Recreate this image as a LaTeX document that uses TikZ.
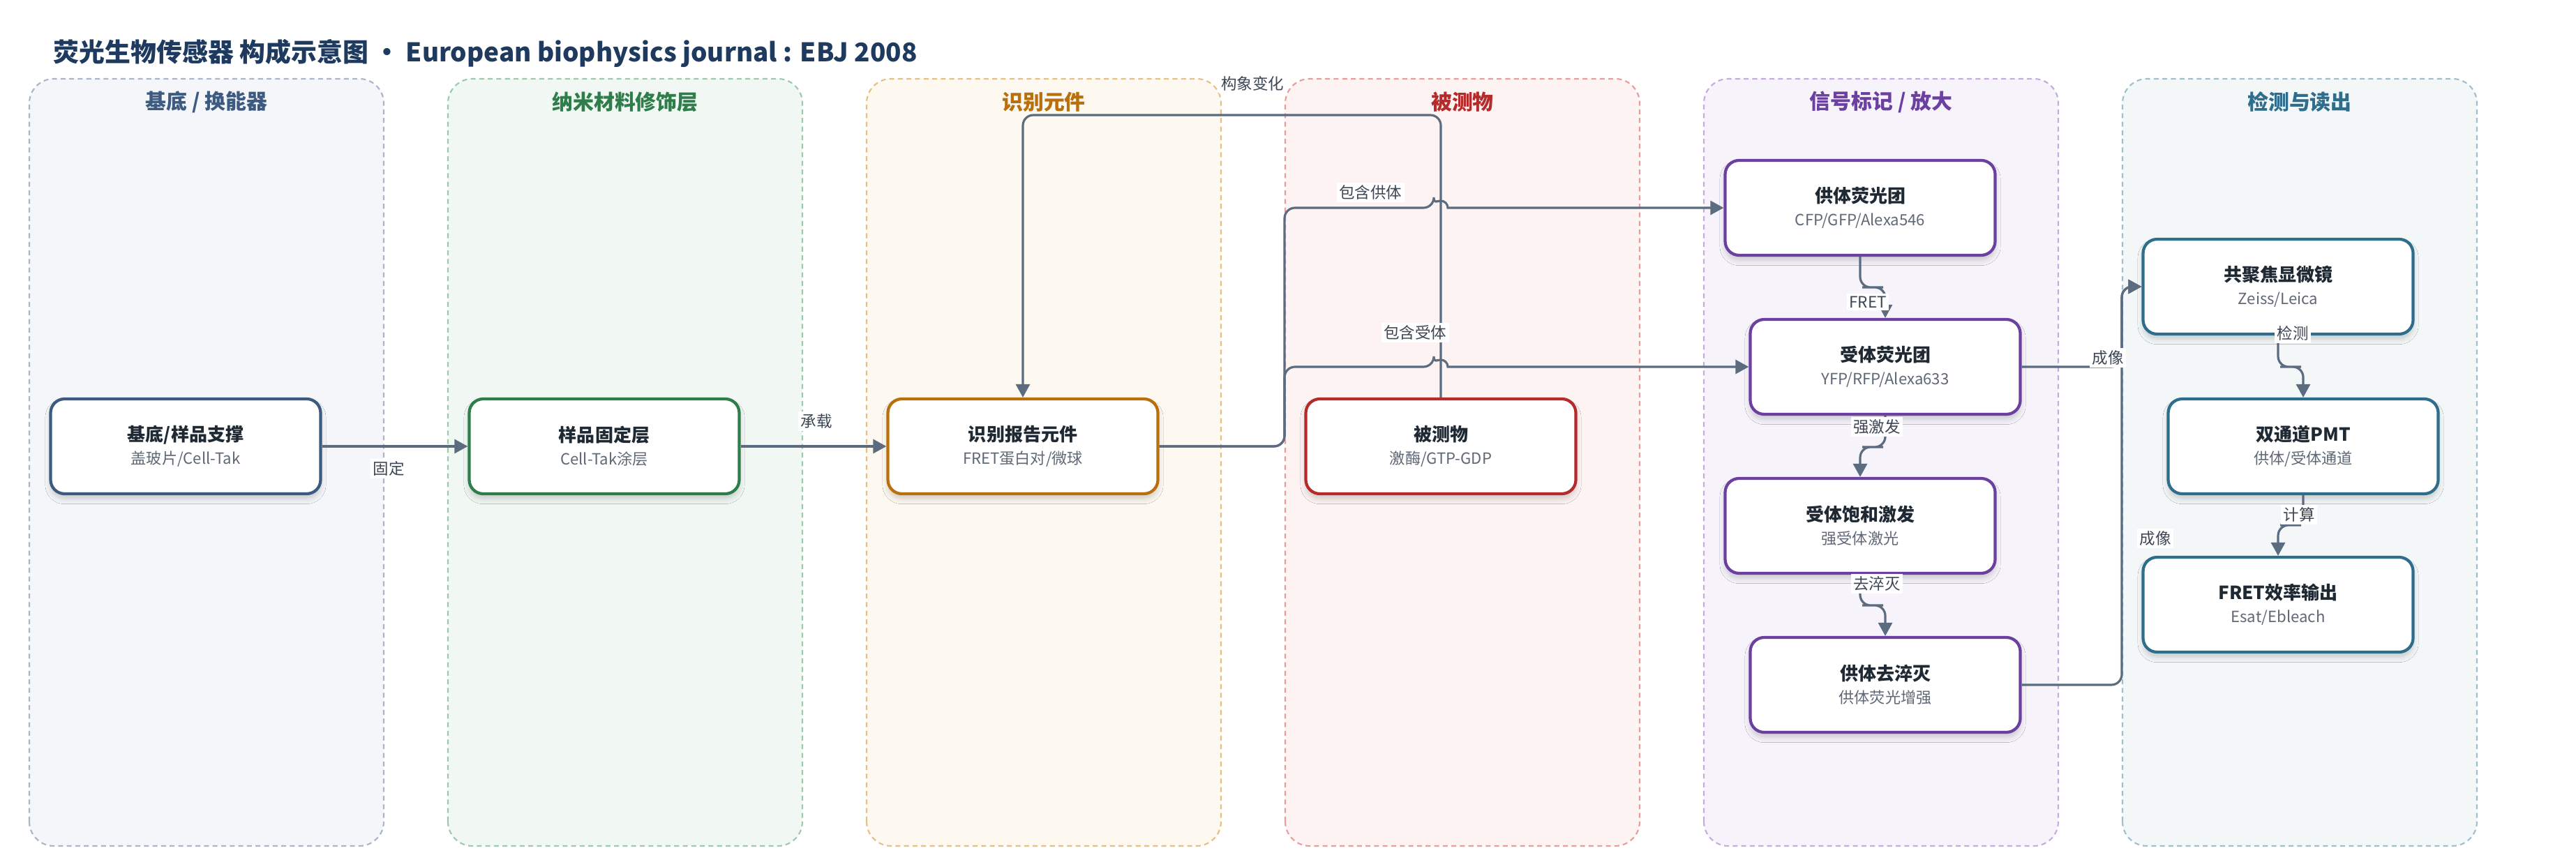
\documentclass[tikz,border=0pt]{standalone}
\usepackage{fontspec}
\usepackage{tkz-euclide}
\setmainfont{Noto Sans CJK SC}
\usetikzlibrary{arrows.meta,shadows.blur}
\definecolor{titleblue}{HTML}{1E3A5F}
\definecolor{edgegray}{HTML}{5B6B80}
\definecolor{subgray}{HTML}{5F6875}
\definecolor{inkdark}{HTML}{1F2933}
\definecolor{lblgray}{HTML}{3D4654}
\definecolor{lfA}{HTML}{F4F6FA}\definecolor{ldA}{HTML}{A9B5C9}\definecolor{ltA}{HTML}{3D5A80}
\definecolor{lfB}{HTML}{F1F8F3}\definecolor{ldB}{HTML}{9DCAAA}\definecolor{ltB}{HTML}{2F7D4B}
\definecolor{lfC}{HTML}{FDF8F0}\definecolor{ldC}{HTML}{E8BF82}\definecolor{ltC}{HTML}{B8700E}
\definecolor{lfD}{HTML}{FDF3F2}\definecolor{ldD}{HTML}{E99C9C}\definecolor{ltD}{HTML}{B52A2A}
\definecolor{lfE}{HTML}{F6F3FB}\definecolor{ldE}{HTML}{C4ACDF}\definecolor{ltE}{HTML}{6B40A0}
\definecolor{lfF}{HTML}{F3F7F8}\definecolor{ldF}{HTML}{9EBFCB}\definecolor{ltF}{HTML}{2E6D8C}
\newcommand\boxtext[2]{{\fontsize{7.4}{9.4}\selectfont\bfseries\color{inkdark}#1}\\{\color{subgray}#2}}

\begin{document}
\begin{tikzpicture}[
        lane/.style={rounded corners=0.35cm,dash pattern=on 2pt off 1.5pt,line width=0.6pt},
        lanetitle/.style={font=\fontsize{8.5}{10}\selectfont\bfseries},
        box/.style={rectangle,rounded corners=0.2cm,minimum width=3.87cm,minimum height=1.36cm,
            fill=white,line width=1.2pt,align=center,font=\fontsize{6.3}{9.4}\selectfont,
            blur shadow={shadow xshift=0pt,shadow yshift=-2pt,shadow opacity=18,shadow blur steps=6}},
        link/.style={draw=edgegray,line width=0.9pt,rounded corners=0.15cm,
            -{Triangle[length=0.19cm,width=0.2cm]}},
        lbl/.style={fill=white,inner sep=1pt,text=lblgray,font=\fontsize{6.4}{8}\selectfont}]
                \useasboundingbox (0,0) rectangle (36.92,12.35);
                \node[anchor=base west,inner sep=0,text=titleblue,font=\fontsize{10.5}{12}\selectfont\bfseries] (title)
                    at (0.76,11.46) {荧光生物传感器 构成示意图 • European biophysics journal : EBJ 2008};
                \foreach \i/\fc/\dc/\tc/\name in {0/lfA/ldA/ltA/{基底 / 换能器},1/lfB/ldB/ltB/纳米材料修饰层,
                        2/lfC/ldC/ltC/识别元件,3/lfD/ldD/ltD/被测物,4/lfE/ldE/ltE/{信号标记 / 放大},5/lfF/ldF/ltF/检测与读出}{
                    \draw[lane,fill=\fc,draw=\dc] (0.42+6*\i,0.22) rectangle ++(5.08,11);
                    \node[lanetitle,text=\tc] (lane\i) at (2.96+6*\i,10.89) {\name};
                }
                \node[box,draw=ltA] (base) at (2.66,5.95) {\boxtext{基底/样品支撑}{盖玻片/Cell-Tak}};
                \node[box,draw=ltB] (fix) at (8.66,5.95) {\boxtext{样品固定层}{Cell-Tak涂层}};
                \node[box,draw=ltC] (recog) at (14.66,5.95) {\boxtext{识别报告元件}{FRET蛋白对/微球}};
                \node[box,draw=ltD] (target) at (20.65,5.95) {\boxtext{被测物}{激酶/GTP-GDP}};
                \node[box,draw=ltE] (donor) at (26.66,9.37) {\boxtext{供体荧光团}{CFP/GFP/Alexa546}};
                \node[box,draw=ltE] (acceptor) at (27.02,7.09) {\boxtext{受体荧光团}{YFP/RFP/Alexa633}};
                \node[box,draw=ltE] (satur) at (26.66,4.81) {\boxtext{受体饱和激发}{强受体激光}};
                \node[box,draw=ltE] (dequench) at (27.02,2.53) {\boxtext{供体去淬灭}{供体荧光增强}};
                \node[box,draw=ltF] (confocal) at (32.65,8.24) {\boxtext{共聚焦显微镜}{Zeiss/Leica}};
                \node[box,draw=ltF] (pmt) at (33.01,5.95) {\boxtext{双通道PMT}{供体/受体通道}};
                \node[box,draw=ltF] (fretout) at (32.65,3.68) {\boxtext{FRET效率输出}{Esat/Ebleach}};
                \tkzDefPoints{17.95/10.70/k1,18.41/9.37/j1,18.41/7.09/j2,20.55/9.37/h1,20.55/7.09/h2,
                    26.84/8.23/s1,26.84/5.94/s2,26.84/3.67/s3,32.83/7.09/s4,32.83/4.82/s5,30.41/8.24/r1}
                \draw[link] (base.east) -- (fix.west);
                \draw[link] (fix.east) -- (recog.west);
                \draw[link] (target.north) |- (k1) -| (recog.north);
                \draw[link] (recog.east) -| (j1) -- (h1) [sharp corners] arc[start angle=180,end angle=0,radius=0.1] -- (donor.west);
                \draw[link] (recog.east) -| (j2) -- (h2) [sharp corners] arc[start angle=180,end angle=0,radius=0.1] -- (acceptor.west);
                \draw[link] (donor.south) |- (s1) -| (acceptor.north);
                \draw[link] (acceptor.south) |- (s2) -| (satur.north);
                \draw[link] (satur.south) |- (s3) -| (dequench.north);
                \draw[link] (acceptor.east) -| (r1) -- (confocal.west);
                \draw[link] (dequench.east) -| (r1) -- (confocal.west);
                \draw[link] (confocal.south) |- (s4) -| (pmt.north);
                \draw[link] (pmt.south) |- (s5) -| (fretout.north);
                \node[lbl] (lfix) at (5.57,5.63) {固定};
                \node[lbl] (lcarry) at (11.70,6.31) {承载};
                \node[lbl] (lconf) at (17.95,11.15) {构象变化};
                \node[lbl] (ldon) at (19.64,9.59) {包含供体};
                \node[lbl] (lacc) at (20.28,7.58) {包含受体};
                \node[lbl] (lfret) at (26.77,8.02) {FRET};
                \node[lbl] (lexc) at (26.90,6.23) {强激发};
                \node[lbl] (lque) at (26.90,3.98) {去淬灭};
                \node[lbl] (limga) at (30.21,7.22) {成像};
                \node[lbl] (limgb) at (30.89,4.63) {成像};
                \node[lbl] (ldet) at (32.86,7.57) {检测};
                \node[lbl] (lcalc) at (32.95,4.97) {计算};
            \end{tikzpicture}
\end{document}
